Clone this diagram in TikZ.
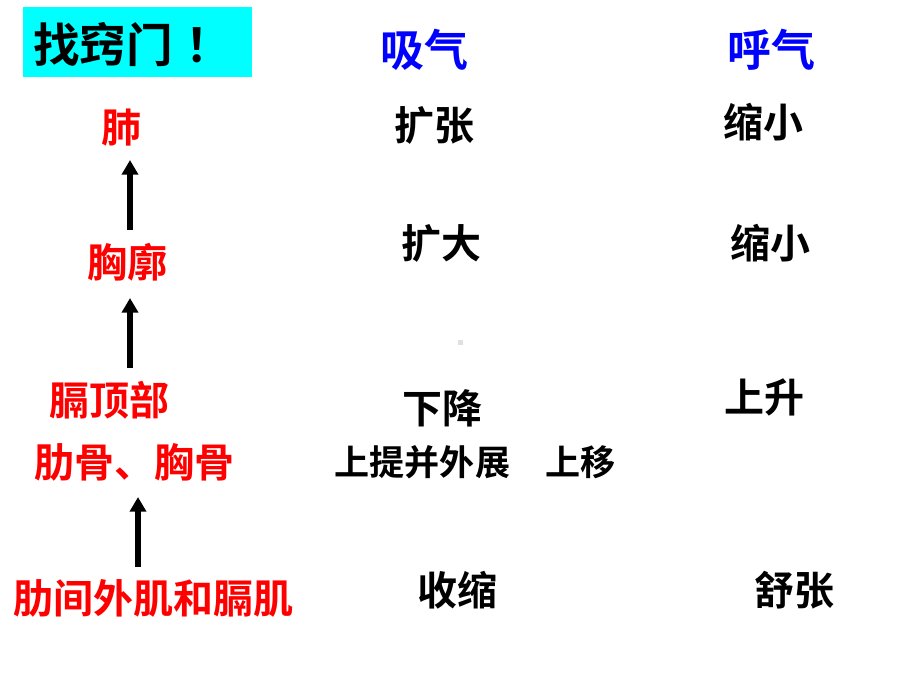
\documentclass[tikz,border=0pt]{standalone}
\usepackage{fontspec}
\usetikzlibrary{arrows.meta}
\newfontfamily\cjk{Noto Sans CJK SC}[BoldFont={* Bold}]
\definecolor{tred}{RGB}{255,0,0}
\definecolor{tblue}{RGB}{0,0,255}
\definecolor{tcyan}{RGB}{0,255,255}
\begin{document}
\begin{tikzpicture}[x=0.75pt,y=-0.75pt,
  lab/.style={inner sep=0pt,font=\cjk\bfseries\fontsize{30}{30}\selectfont},
  redlab/.style={lab,text=tred},
  head/.style={inner sep=0pt,font=\cjk\bfseries\fontsize{33}{33}\selectfont,text=tblue},
  uparrow/.style={line width=3.8pt,-{Triangle[width=12pt,length=11pt]}}]
\useasboundingbox (0,0) rectangle (920,690);
\fill[white] (0,0) rectangle (920,690);
\fill[tcyan] (23,7) rectangle (252,77);
\node[inner sep=0pt,anchor=west,font=\cjk\bfseries\fontsize{35}{35}\selectfont] (title) at (33,45) {找窍门\hspace{9pt}！};
\node[head] (xiqi) at (424,50) {吸气};
\node[head] (huqi) at (771,50) {呼气};
% left column
\node[redlab] (fei) at (121,128) {肺};
\node[redlab] (xiongkuo) at (127,262) {胸廓};
\node[redlab] (geding) at (109,400) {膈顶部};
\node[redlab] (leigu) at (134,462) {肋骨、胸骨};
\node[redlab] (jirou) at (153,598) {肋间外肌和膈肌};
% arrows
\coordinate (a1s) at (130,230); \coordinate (a1e) at (130,160);
\coordinate (a2s) at (130,368); \coordinate (a2e) at (130,298);
\coordinate (a3s) at (138,567); \coordinate (a3e) at (138,497);
\draw[uparrow] (a1s) -- (a1e);
\draw[uparrow] (a2s) -- (a2e);
\draw[uparrow] (a3s) -- (a3e);
% inhale column
\node[lab] (kuozhang) at (434,125) {扩张};
\node[lab] (kuoda) at (441,243) {扩大};
\node[lab] (xiajiang) at (442,408) {下降};
\node[lab,font=\cjk\bfseries\fontsize{26.3}{26.3}\selectfont] (tisheng) at (475,462) {上提并外展　上移};
\node[lab] (shousuo) at (457,590) {收缩};
% exhale column
\node[lab] (suoxiao1) at (763,122) {缩小};
\node[lab] (suoxiao2) at (770,243) {缩小};
\node[lab] (shangsheng) at (764,397) {上升};
\node[lab] (shuzhang) at (794,590) {舒张};
% small grey dot
\fill[black!12] (457.5,339.5) rectangle (463,345);
\end{tikzpicture}
\end{document}
